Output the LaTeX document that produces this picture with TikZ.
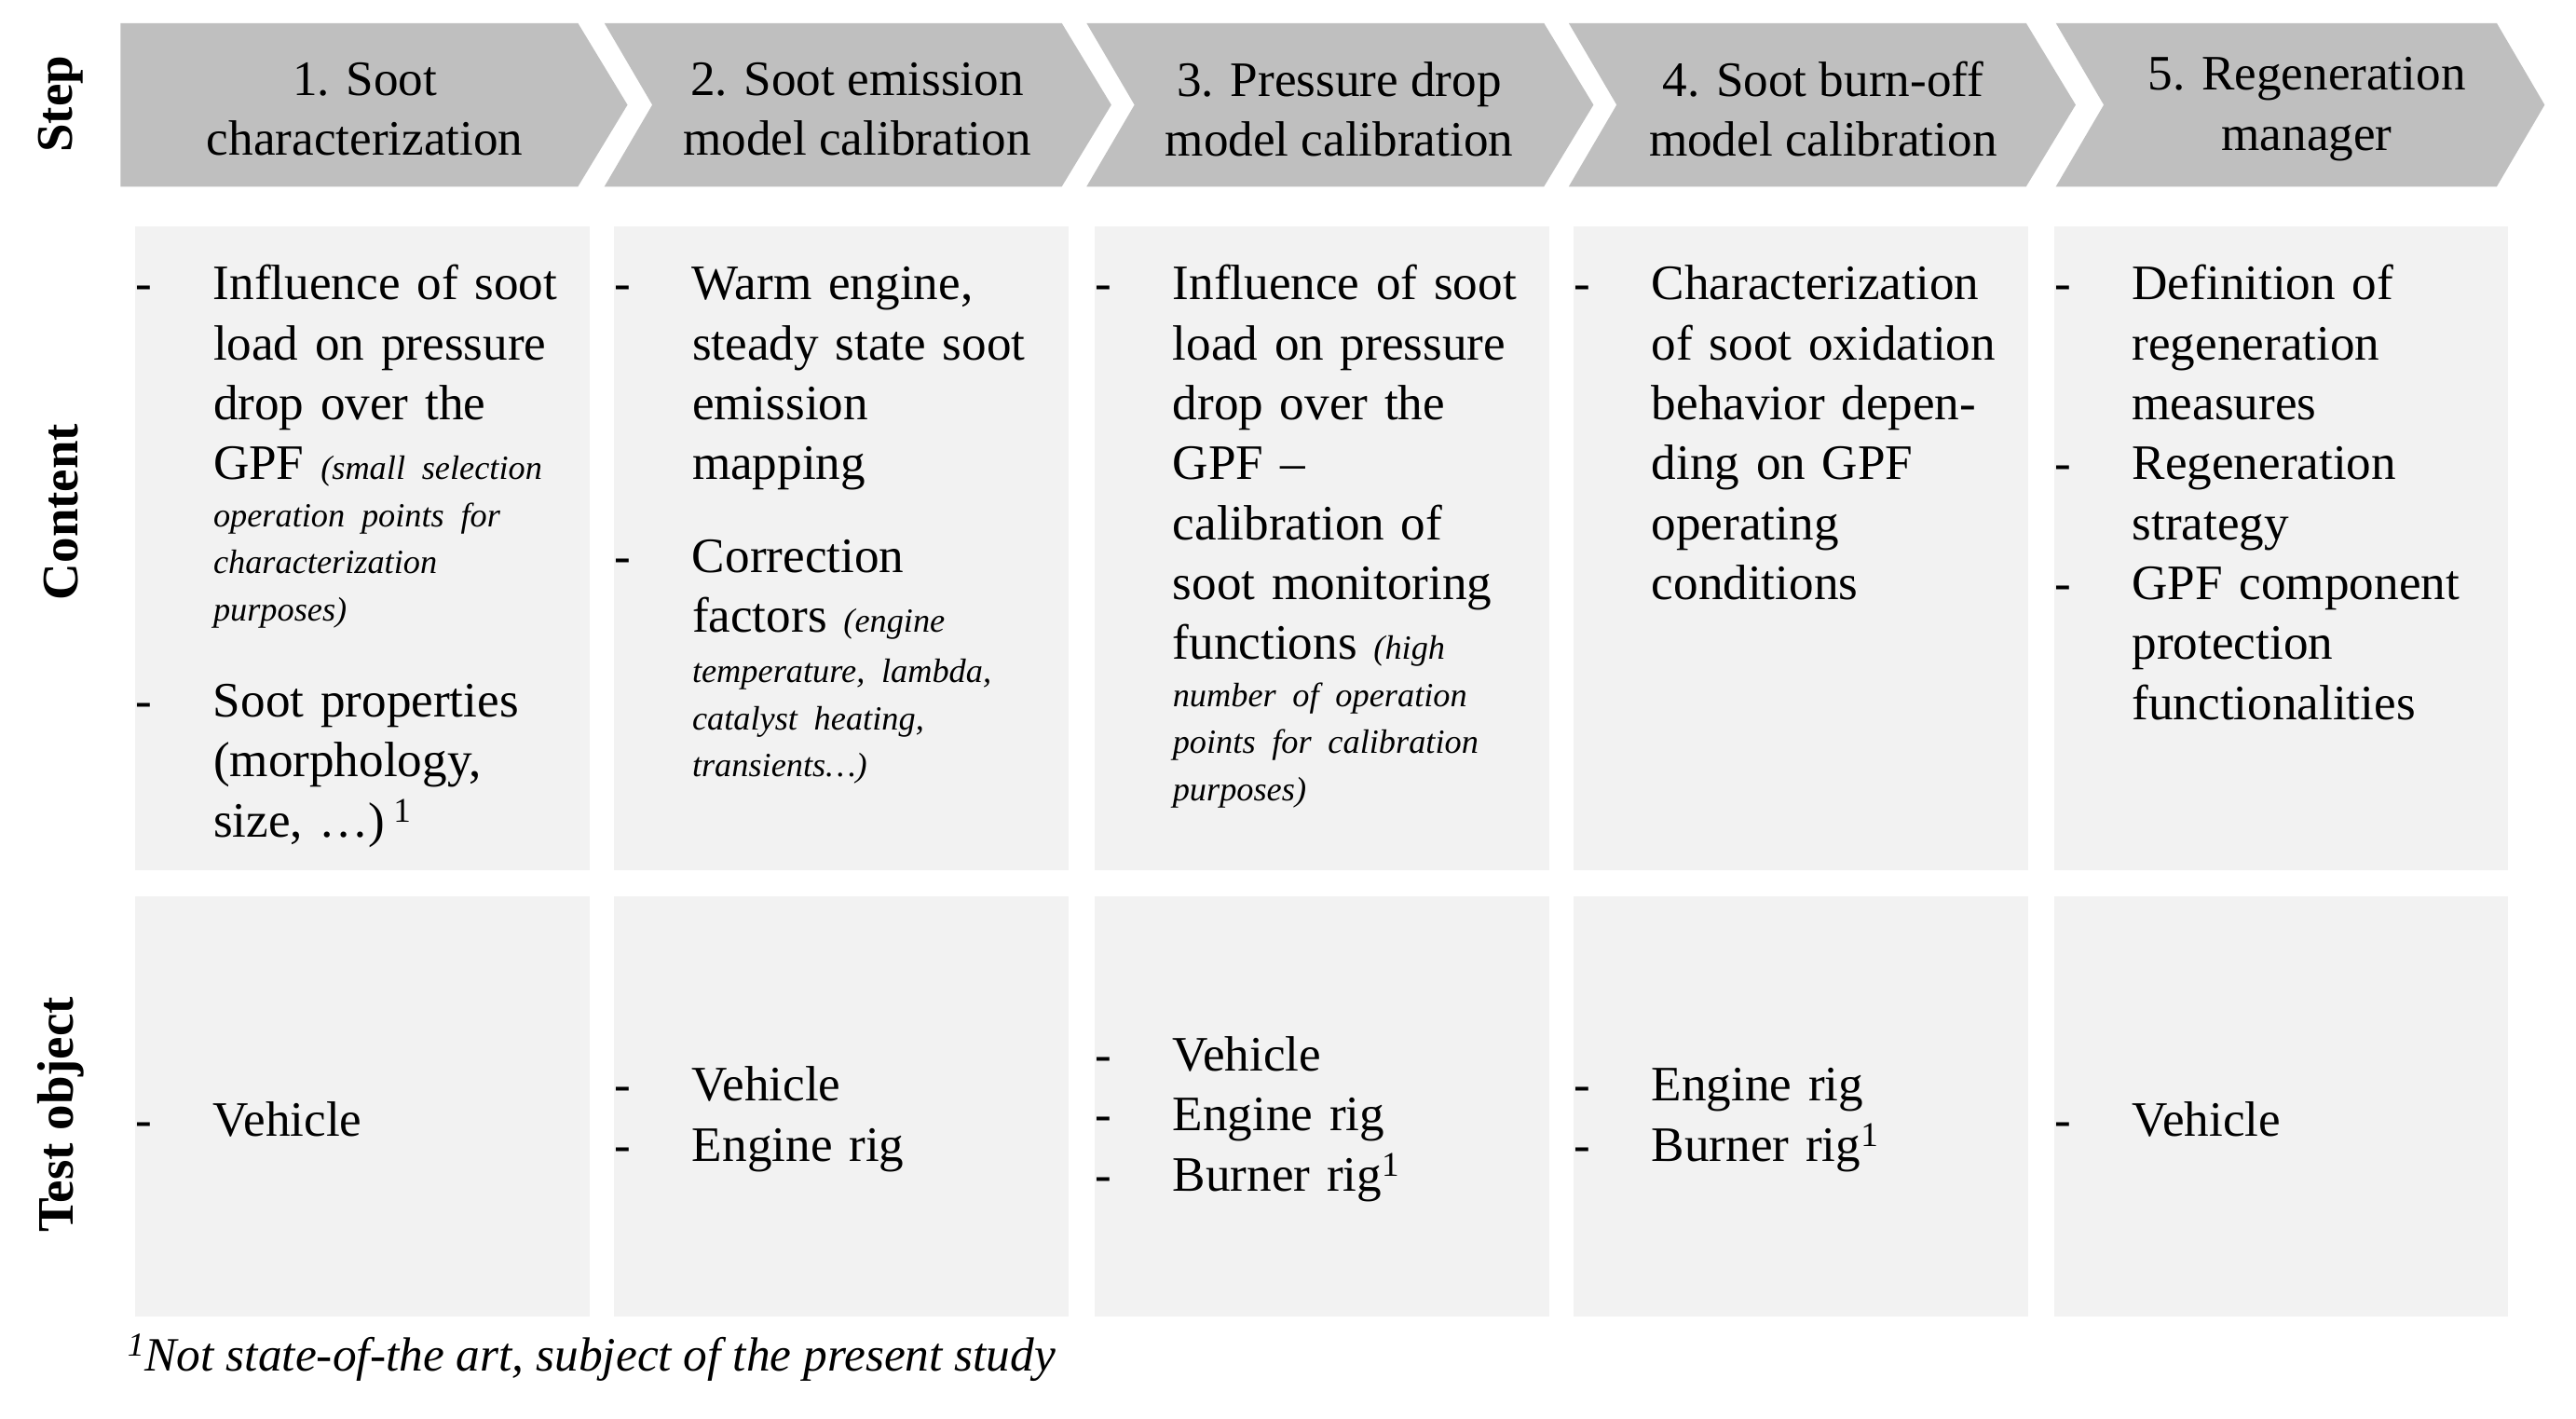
\documentclass[tikz,border=0pt]{standalone}
\usepackage{fontspec}
\setmainfont{Liberation Serif}
\newcommand\bigf{\fontsize{30}{36.3}\selectfont}
\newcommand\smf{\fontsize{20.5}{28.5}\selectfont\itshape}
\newcommand\lsk{\leftskip=47pt\relax}
\newcommand\itm[1]{\par\noindent\hspace*{-47pt}\makebox[47pt][l]{-}#1\par}
\begin{document}
\begin{tikzpicture}[x=1pt,y=1pt,
  arr/.style={fill=black!25,draw=none},
  cbox/.style={fill=black!5,draw=none},
  hdr/.style={font=\bigf,align=center,inner sep=0},
  rowlab/.style={font=\fontsize{31}{36}\selectfont\bfseries,rotate=90,inner sep=0},
  cont/.style={anchor=north west,inner sep=0,text width=290pt,font=\bigf,align=left},
  tst/.style={anchor=west,inner sep=0,text width=290pt,font=\bigf,align=left}]
\useasboundingbox (0,0) rectangle (1560,-859);
% arrows
\fill[arr] (73,-14) -- (350,-14) -- (380,-63.5) -- (350,-113) -- (73,-113) -- cycle;
\foreach \L in {366,658,950}{
  \fill[arr] (\L,-14) -- (\L+277,-14) -- (\L+307,-63.5) -- (\L+277,-113) -- (\L,-113) -- (\L+29,-63.5) -- cycle;}
\fill[arr] (1245,-14) -- (1512,-14) -- (1541,-63.5) -- (1512,-113) -- (1245,-113) -- (1274,-63.5) -- cycle;
\node[hdr] (h1) at (221,-66) {1. Soot\\characterization};
\node[hdr] (h2) at (519,-66) {2. Soot emission\\model calibration};
\node[hdr] (h3) at (811,-66) {3. Pressure drop\\model calibration};
\node[hdr] (h4) at (1104,-66) {4. Soot burn-off\\model calibration};
\node[hdr] (h5) at (1397,-66) {5. Regeneration\\manager};
% row labels
\node[rowlab] (r1) at (37,-63) {Step};
\node[rowlab] (r2) at (37,-310) {Content};
\node[rowlab] (r3) at (37,-675) {Test object};
% boxes
\foreach \L in {82,372,663,953,1244}{
  \fill[cbox] (\L,-137) rectangle (\L+275,-527);
  \fill[cbox] (\L,-543) rectangle (\L+275,-797);}
% content
\node[cont] (c1) at (82,-145) {\lsk\itm{Influence of soot\\load on pressure\\drop over the\\GPF {\smf (small selection}\par{\smf operation points for\\characterization\\purposes)\par}}\vspace{22pt}\itm{Soot properties\\(morphology,\\size, \dots)\,\textsuperscript{1}}};
\node[cont] (c2) at (372,-145) {\lsk\itm{Warm engine,\\steady state soot\\emission\\mapping}\vspace{20pt}\itm{Correction\\factors {\smf (engine}\par\vspace{2pt}{\smf temperature, lambda,\\catalyst heating,\\transients\dots)\par}}};
\node[cont] (c3) at (663,-145) {\lsk\itm{Influence of soot\\load on pressure\\drop over the\\GPF --\\calibration of\\soot monitoring\\functions {\smf (high}\par{\smf number of operation\\points for calibration\\purposes)\par}}};
\node[cont] (c4) at (953,-145) {\lsk\itm{Characterization\\of soot oxidation\\behavior depen-\\ding on GPF\\operating\\conditions}};
\node[cont] (c5) at (1244,-145) {\lsk\itm{Definition of\\regeneration\\measures}\itm{Regeneration\\strategy}\itm{GPF component\\protection\\functionalities}};
% test objects
\node[tst] (t1) at (82,-670) {\lsk\itm{Vehicle}};
\node[tst] (t2) at (372,-670) {\lsk\itm{Vehicle}\itm{Engine rig}};
\node[tst] (t3) at (663,-670) {\lsk\itm{Vehicle}\itm{Engine rig}\itm{Burner rig\textsuperscript{1}}};
\node[tst] (t4) at (953,-670) {\lsk\itm{Engine rig}\itm{Burner rig\textsuperscript{1}}};
\node[tst] (t5) at (1244,-670) {\lsk\itm{Vehicle}};
% footnote
\node[anchor=west,inner sep=0,font=\fontsize{29}{32}\selectfont\itshape] (fn) at (77,-822) {\textsuperscript{1}Not state-of-the art, subject of the present study};
\end{tikzpicture}
\end{document}
